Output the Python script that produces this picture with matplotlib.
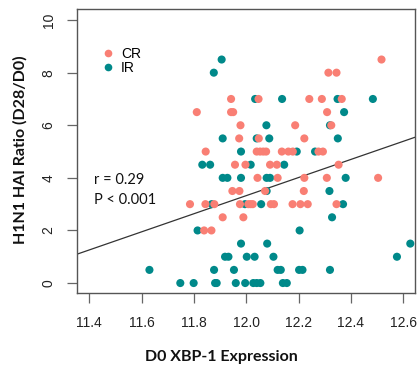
import matplotlib
matplotlib.use("Agg")
import matplotlib.pyplot as plt
import numpy as np

# ---- data ----
cr_x = [12.517,
        12.314, 12.345,
        11.942, 12.047, 12.241, 12.289, 12.365,
        11.811, 11.942, 11.950, 12.309,
        11.978, 12.187, 12.325,
        11.973, 12.048, 12.222,
        11.845, 12.040, 12.053, 12.065, 12.076, 12.136, 12.161, 12.178, 12.276, 12.293,
        11.957, 11.997, 12.091, 12.117, 12.353,
        12.043, 12.120, 12.222, 12.308, 12.504,
        11.947, 11.974, 12.072, 12.220,
        11.785, 11.844, 11.878, 11.976, 12.008, 12.017, 12.025, 12.094, 12.106, 12.177, 12.207, 12.235, 12.345,
        11.910, 11.989,
        11.839, 11.867]
cr_y = [8.5,
        8, 8,
        7, 7, 7, 7, 7,
        6.5, 6.5, 6.5, 6.5,
        6, 6, 6,
        5.5, 5.5, 5.5,
        5, 5, 5, 5, 5, 5, 5, 5, 5, 5,
        4.5, 4.5, 4.5, 4.5, 4.5,
        4, 4, 4, 4, 4,
        3.5, 3.5, 3.5, 3.5,
        3, 3, 3, 3, 3, 3, 3, 3, 3, 3, 3, 3, 3,
        2.5, 2.5,
        2, 2]

ir_x = [11.906,
        11.876,
        12.034, 12.137, 12.349, 12.484,
        12.374,
        12.077, 12.320,
        11.910, 12.040, 12.088, 12.350,
        11.980, 12.193, 12.263,
        11.832, 11.862, 12.017, 12.145,
        11.910, 11.928, 11.980, 12.078, 12.091, 12.380,
        12.078, 12.318,
        11.868, 11.995, 12.057, 12.370,
        12.328,
        11.814, 12.204,
        11.980, 12.080, 12.627,
        11.919, 11.932, 12.002, 12.032, 12.104, 12.576,
        11.630, 11.877, 11.953, 12.120, 12.132, 12.202, 12.215, 12.320,
        11.748, 11.799, 11.881, 11.887, 11.960, 11.996, 12.027, 12.040, 12.054, 12.140, 12.155]
ir_y = [8.5,
        8,
        7, 7, 7, 7,
        6.5,
        6, 6,
        5.5, 5.5, 5.5, 5.5,
        5, 5, 5,
        4.5, 4.5, 4.5, 4.5,
        4, 4, 4, 4, 4, 4,
        3.5, 3.5,
        3, 3, 3, 3,
        2.5,
        2, 2,
        1.5, 1.5, 1.5,
        1, 1, 1, 1, 1, 1,
        0.5, 0.5, 0.5, 0.5, 0.5, 0.5, 0.5, 0.5,
        0, 0, 0, 0, 0, 0, 0, 0, 0, 0, 0]

# regression line (intercept, slope)
fit_intercept = -37.98
fit_slope = 3.442

x_ticks = [11.4, 11.6, 11.8, 12.0, 12.2, 12.4, 12.6]
y_ticks = [0, 2, 4, 6, 8, 10]
group_labels = ["CR", "IR"]
stat_text = "r = 0.29\nP < 0.001"

# ---- styling ----
CR_COL = "#F97F74"
IR_COL = "#00898A"
W, H = 418, 367
fig = plt.figure(figsize=(W / 100, H / 100), dpi=100)
ax = fig.add_axes([76.7 / W, 1 - 293.3 / H, (415 - 76.7) / W, (293.3 - 9.3) / H])

ax.scatter(ir_x, ir_y, s=34, color=IR_COL, edgecolors="none", zorder=3)
ax.scatter(cr_x, cr_y, s=34, color=CR_COL, edgecolors="none", zorder=3)

xlim = (11.352, 12.645)
ylim = (-0.39, 10.41)
ax.set_xlim(*xlim)
ax.set_ylim(*ylim)
lx = np.array(xlim)
ax.plot(lx, fit_intercept + fit_slope * lx, color="#333333", lw=0.9, zorder=2)

ax.set_xticks(x_ticks)
ax.set_xticklabels([f"{t:.1f}" for t in x_ticks], fontfamily="Liberation Sans", fontsize=10, color="#222222")
ax.set_yticks(y_ticks)
ax.set_yticklabels([str(t) for t in y_ticks], fontfamily="Liberation Sans", fontsize=10,
                   rotation=90, va="center", color="#222222")
ax.tick_params(axis="both", direction="out", length=7.2, width=0.9, color="#666666")
ax.tick_params(axis="x", pad=9)
ax.tick_params(axis="y", pad=8)
for sp in ax.spines.values():
    sp.set_color("#555555")
    sp.set_linewidth(1.0)

# legend
handles = [plt.Line2D([], [], ls="none", marker="o", ms=5.5, mfc=CR_COL, mec="none"),
           plt.Line2D([], [], ls="none", marker="o", ms=5.5, mfc=IR_COL, mec="none")]
ax.legend(handles, group_labels, loc="upper left", bbox_to_anchor=(0.077, 0.868), frameon=False,
          prop={"family": "Liberation Sans", "size": 10}, handlelength=0.8, handletextpad=0.5,
          labelspacing=0.0, borderpad=0, borderaxespad=0)

fig.text(94 / W, 1 - 190 / H, stat_text, fontfamily="Lato", fontsize=10.5, va="center", ha="left",
         linespacing=1.5, color="#111111")

fig.text(20 / W, 1 - 150 / H, "H1N1 HAI Ratio (D28/D0)", rotation=90, fontfamily="Lato",
         fontweight="bold", fontsize=11.5, ha="center", va="center", color="#111111")
fig.text(221 / W, 1 - 356.7 / H, "D0 XBP-1 Expression", fontfamily="Lato",
         fontweight="bold", fontsize=11.5, ha="center", va="center", color="#111111")

fig.savefig("out.png", dpi=100)
